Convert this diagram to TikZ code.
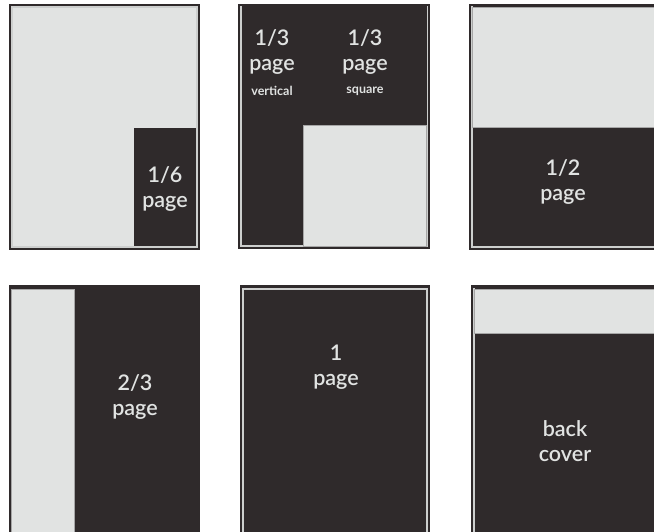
\documentclass[tikz,border=0pt]{standalone}
\usepackage{fontspec}
\setmainfont{Lato}
\newfontfamily\adfont{Lato Semibold}
\usepackage{xcolor}
\usepackage{tikz}
\definecolor{AdDark}{HTML}{2F2A2B}
\definecolor{AdLight}{HTML}{E1E3E2}
\begin{document}
\begin{tikzpicture}[x=1pt,y=-1pt,
    frame/.style={fill=AdDark},
    rim/.style={draw=AdLight!80!gray,line width=1.1pt},
    free/.style={fill=AdLight,draw=gray!70,line width=0.5pt},
    lbl/.style={text=AdLight,align=center,inner sep=0pt,
                font=\adfont\fontsize{21.5}{25}\selectfont},
    sub/.style={text=AdLight,inner sep=0pt,font=\bfseries\fontsize{12.5}{13}\selectfont}]
  \useasboundingbox (0,0) rectangle (654,531);
  \clip (0,0) rectangle (654,531);

  % 1/6 page
  \fill[frame] (9,4) rectangle (200,250);
  \draw[rim] (12,7) rectangle (197,247);
  \fill[AdLight] (12.6,7.6) rectangle (196.4,246.4);
  \fill[AdDark] (134,128) rectangle (196.4,245.5);
  \node[lbl] (sixth) at (165,189) {1/6\\page};

  % 1/3 page
  \fill[frame] (238,4) rectangle (430,249);
  \draw[rim] (241,7) rectangle (427,246);
  \fill[AdDark] (241.6,6) rectangle (427,245.4);
  \fill[free] (303,125) rectangle (426,246);
  \node[lbl] (vert) at (272,52) {1/3\\page};
  \node[sub] (vertsub) at (272,91) {vertical};
  \node[lbl] (sq) at (365,52) {1/3\\page};
  \node[sub] (sqsub) at (365,91) {square};

  % 1/2 page
  \fill[frame] (469,4) rectangle (670,250);
  \draw[rim] (472,7) rectangle (670,247);
  \fill[AdDark] (472.6,6) rectangle (670,246.4);
  \fill[free] (472.6,7.6) rectangle (670,127);
  \node[lbl] (half) at (563,182) {1/2\\page};

  % 2/3 page
  \fill[frame] (9,285) rectangle (200,545);
  \fill[free] (11.5,289) rectangle (74,545);
  \node[lbl] (twothird) at (135,397) {2/3\\page};

  % 1 page
  \fill[frame] (240,285) rectangle (430,545);
  \draw[rim] (243,289) rectangle (427,545);
  \node[lbl] (full) at (336,367) {1\\page};

  % back cover
  \fill[frame] (471,285) rectangle (670,545);
  \draw[rim] (474,289) rectangle (670,545);
  \fill[AdDark] (474.6,288) rectangle (670,545);
  \fill[free] (474.6,289.6) rectangle (670,333);
  \node[lbl] (back) at (565,441) {back\\cover};
\end{tikzpicture}
\end{document}
